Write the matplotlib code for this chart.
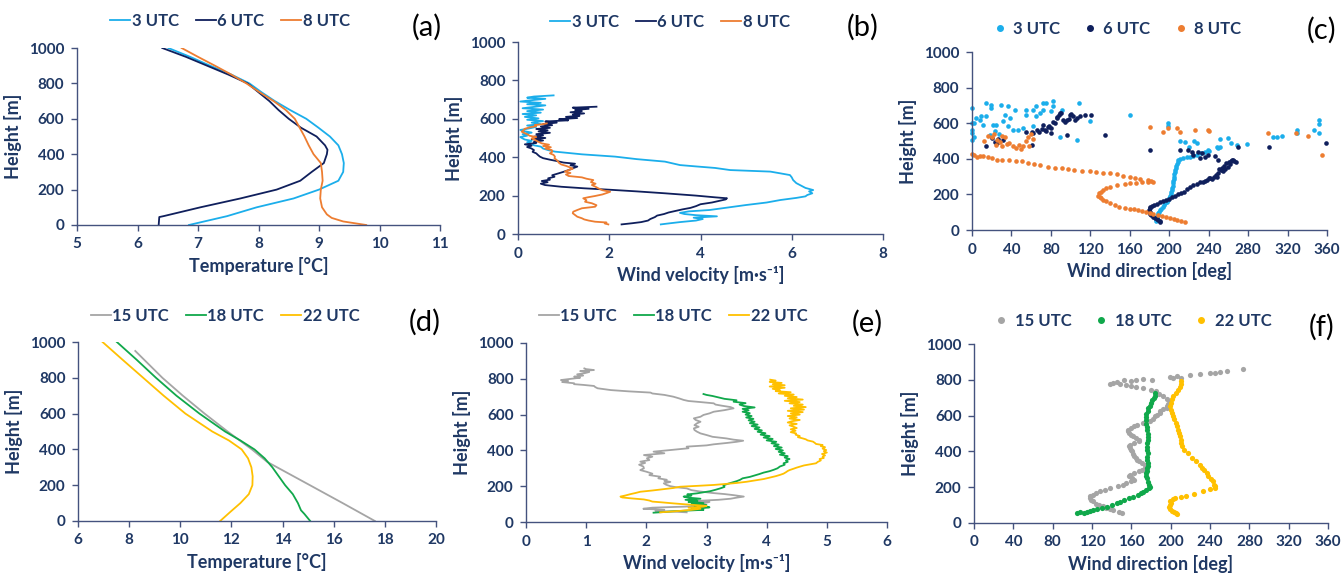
import matplotlib
matplotlib.use('Agg')
import matplotlib.pyplot as plt
from matplotlib.lines import Line2D

plt.rcParams['font.family'] = ['Lato', 'DejaVu Sans']

# ---------------- DATA ----------------
# (a) temperature, early morning
a_h_3 = [0, 50, 100, 150, 200, 250, 300, 350, 400, 450, 500, 550, 600, 650, 700, 750, 800, 850, 900, 950, 1000]
a_t_3 = [6.85, 7.48, 7.97, 8.58, 9.0, 9.32, 9.40, 9.41, 9.38, 9.32, 9.18, 8.99, 8.79, 8.52, 8.27, 8.05, 7.85, 7.55, 7.2, 6.87, 6.51]
a_h_6 = [0, 45, 50, 100, 150, 200, 250, 300, 350, 400, 425, 450, 500, 550, 600, 650, 700, 750, 800, 850, 900, 950, 1000]
a_t_6 = [6.35, 6.36, 6.43, 7.04, 7.70, 8.30, 8.69, 8.88, 9.08, 9.13, 9.14, 9.1, 8.96, 8.70, 8.50, 8.33, 8.18, 8.0, 7.82, 7.5, 7.15, 6.8, 6.41]
a_h_8 = [0, 20, 40, 60, 100, 150, 200, 250, 300, 350, 400, 450, 500, 550, 600, 650, 700, 750, 800, 850, 900, 950, 1000]
a_t_8 = [9.78, 9.40, 9.21, 9.13, 9.05, 9.02, 9.03, 9.06, 9.05, 9.03, 8.91, 8.83, 8.76, 8.68, 8.60, 8.45, 8.25, 8.02, 7.8, 7.55, 7.28, 7.0, 6.73]

# (b) wind velocity (height, speed)
b_3 = [(50, 3.13), (55, 3.3), (62, 3.55), (70, 3.9), (78, 4.05), (85, 3.85), (92, 4.36), (98, 3.9), (104, 3.65),
       (110, 3.55), (118, 3.75), (125, 4.2), (138, 4.6), (151, 5.0), (164, 5.45), (177, 5.75), (188, 6.1), (196, 6.3),
       (203, 6.34), (212, 6.45), (222, 6.38), (229, 6.47), (240, 6.3), (255, 6.18), (265, 6.1), (281, 6.03), (295, 6.0),
       (307, 5.96), (318, 5.7), (325, 5.53), (333, 4.65), (344, 4.32), (352, 3.9), (359, 3.55), (377, 3.22), (390, 2.6),
       (403, 2.13), (415, 1.4), (429, 0.81), (437, 0.66), (445, 0.55), (455, 0.5), (462, 0.35), (470, 0.3), (478, 0.2),
       (485, 0.3), (492, 0.15), (498, 0.1), (505, 0.05), (512, 0.2), (520, 0.1), (528, 0.3), (535, 0.15), (542, 0.05),
       (550, 0.25), (558, 0.4), (565, 0.2), (572, 0.5), (580, 0.3), (588, 0.55), (595, 0.2), (602, 0.45), (610, 0.15),
       (618, 0.4), (625, 0.1), (632, 0.5), (640, 0.2), (648, 0.55), (655, 0.1), (662, 0.35), (670, 0.6), (676, 0.2),
       (683, 0.5), (690, 0.05), (697, 0.3), (704, 0.6), (710, 0.2), (716, 0.35), (722, 0.78)]
b_6 = [(50, 2.27), (56, 2.5), (62, 2.7), (70, 2.85), (78, 2.9), (88, 3.0), (96, 3.05), (104, 3.2), (112, 3.3),
       (120, 3.45), (128, 3.6), (136, 3.78), (145, 3.9), (155, 4.0), (164, 4.25), (172, 4.4), (180, 4.55), (186, 4.58),
       (191, 4.32), (200, 3.9), (212, 3.22), (222, 2.6), (230, 2.05), (238, 1.45), (246, 0.95), (255, 0.59), (262, 0.5),
       (270, 0.65), (276, 0.52), (283, 0.7), (290, 0.66), (298, 0.8), (306, 0.75), (316, 0.89), (324, 1.0), (333, 1.11),
       (342, 1.2), (351, 1.3), (358, 1.15), (366, 1.25), (372, 1.0), (380, 0.85), (387, 0.7), (395, 0.55), (403, 0.48),
       (411, 0.44), (420, 0.4), (428, 0.32), (437, 0.35), (446, 0.29), (453, 0.2), (460, 0.3), (467, 0.15), (474, 0.4),
       (480, 0.35), (487, 0.55), (494, 0.3), (500, 0.6), (507, 0.35), (514, 0.55), (520, 0.4), (527, 0.7), (534, 0.45),
       (540, 0.65), (547, 0.4), (553, 0.7), (560, 0.5), (567, 0.75), (573, 0.55), (580, 0.85), (586, 0.6), (592, 1.1),
       (598, 0.9), (604, 1.3), (610, 1.05), (616, 1.35), (622, 1.2), (628, 1.45), (634, 1.15), (640, 1.4), (646, 1.25),
       (652, 1.55), (658, 1.2), (663, 1.72)]
b_8 = [(50, 1.98), (55, 1.9), (60, 1.94), (64, 1.69), (70, 1.55), (76, 1.45), (82, 1.4), (90, 1.3), (99, 1.25),
       (108, 1.2), (116, 1.21), (125, 1.3), (134, 1.4), (142, 1.69), (150, 1.72), (160, 1.62), (168, 1.47), (176, 1.5),
       (186, 1.43), (192, 1.55), (198, 1.69), (206, 1.85), (214, 1.95), (220, 2.02), (228, 1.85), (238, 1.76),
       (246, 1.7), (255, 1.62), (262, 1.7), (270, 1.6), (281, 1.65), (288, 1.5), (295, 1.4), (302, 1.11), (310, 1.05),
       (318, 1.15), (325, 1.03), (332, 1.1), (340, 1.2), (347, 1.14), (355, 1.05), (362, 0.95), (370, 0.9), (377, 0.88),
       (385, 0.85), (394, 0.8), (403, 0.81), (412, 0.78), (420, 0.7), (428, 0.75), (437, 0.74), (445, 0.6), (452, 0.72),
       (458, 0.55), (465, 0.68), (472, 0.52), (480, 0.45), (490, 0.37), (498, 0.3), (505, 0.4), (512, 0.25),
       (518, 0.22), (525, 0.15), (533, 0.08), (540, 0.12), (548, 0.15), (555, 0.25), (562, 0.4), (568, 0.37),
       (572, 0.55), (576, 0.63)]

# (c) wind direction (deg, height)
c_3 = [(187, 52), (187, 60), (188, 68), (188, 76), (189, 84), (189, 94), (190, 102), (191, 110), (192, 118), (194, 131),
       (195, 140), (196, 150), (198, 160), (199, 170), (200, 180), (201, 190), (202, 200), (202, 212), (203, 225),
       (203, 238), (204, 250), (204, 262), (204, 275), (205, 288), (205, 300), (205, 312), (206, 325), (206, 337),
       (207, 350), (207, 362), (208, 372), (209, 382), (209, 393), (211, 398), (214, 403), (218, 408), (221, 412),
       (224, 418), (228, 424), (232, 430), (236, 438), (240, 445),
       (211, 502), (216, 496), (224.7, 502), (227.7, 487), (251, 510), (259.5, 515), (251, 468), (263, 487), (268.4, 477),
       (278.5, 481), (248, 468), (249.7, 459), (239.5, 449), (219.6, 468), (199, 603), (199, 584),
       (304.8, 524), (309.8, 521), (314.8, 528), (330, 561), (330, 543), (346.6, 561), (351.6, 618), (351.6, 596),
       (351.6, 543),
       (0, 685), (0, 600), (0, 563), (0, 544), (0, 507), (2, 525), (8, 619), (9.5, 638), (14.6, 713), (19.6, 704),
       (19.6, 685), (14.6, 638), (11.2, 591), (21.3, 591), (18, 535), (24.7, 591), (29.8, 704), (36.6, 694),
       (33.2, 647), (31.5, 610), (36.6, 582), (41.7, 563), (46.7, 563), (43.3, 675), (38.3, 629), (51.8, 572),
       (55.2, 647), (55.2, 675), (65.4, 694), (62, 675), (65.4, 638), (72, 675), (72, 713), (75.5, 713), (82.3, 722),
       (82.3, 694), (80.6, 666), (68.7, 657), (62, 582), (89, 525), (90.8, 675), (109, 713), (119.5, 610), (106, 507),
       (160, 647), (27, 540), (23, 555), (4, 630), (2, 600)]
c_6 = [(190.6, 47), (191, 53), (189, 58), (188, 64), (186, 70), (184, 75), (182, 84), (181, 92), (180, 100), (179, 108),
       (179, 115), (180, 122), (181, 128), (183, 135), (185, 140), (188, 148), (191, 155), (194, 162), (197, 168),
       (200, 176), (203, 184), (206, 192), (209, 200), (212, 208), (215, 216), (218, 228), (221, 240), (224, 253),
       (228, 258), (231, 268), (234, 272), (238, 281), (241, 290), (245, 300), (247, 310), (249, 320), (252, 337),
       (250, 345), (254, 350), (256, 362), (258, 375), (261, 383), (263, 390), (265, 393), (266, 385), (262, 370),
       (260, 355), (255, 330), (248, 300), (243, 288), (236, 275), (240, 290), (257, 340), (264, 395), (268, 380),
       (211, 449), (219.5, 449), (222.9, 440), (224.6, 421), (229.5, 440), (233, 431), (236, 412), (239.5, 421),
       (249.6, 393), (231.3, 402), (180.5, 449), (301.5, 468), (359.3, 487), (270, 466), (246.5, 413),
       (14.2, 472), (23.3, 496), (26.7, 509), (31.8, 506), (20, 515), (25, 488), (60.5, 552), (65.6, 562), (70.6, 566),
       (77.4, 581), (82.5, 609), (85.9, 637), (89.2, 655), (96, 618), (99.4, 646), (106, 627), (114.6, 646),
       (121, 646), (135, 533), (96, 533), (60.5, 477), (55, 553), (62, 544), (68, 550), (72, 591), (74, 560),
       (78, 585), (80.6, 544), (84, 600), (86, 630), (88, 645), (90, 660), (92.4, 619), (94, 605), (98, 625),
       (100, 650), (102.6, 638), (104, 620), (110, 640), (80, 575), (75, 555)]
c_8 = [(216, 47), (212, 50), (208, 55), (205, 60), (201, 66), (197, 72), (193, 78), (189, 84), (184, 90), (180, 97),
       (176, 103), (172, 108), (168, 112), (164, 117), (160, 120), (155, 125), (149, 132), (145, 140), (140, 150),
       (136, 161), (133, 170), (131, 178), (130, 184), (128, 193), (129, 206), (131, 215), (133, 225), (136, 234),
       (140, 242), (147, 253), (155, 258), (160, 262), (166, 266), (172, 268), (178, 270), (184, 270), (182, 276),
       (178, 280), (170, 284), (165, 290), (160, 300), (153, 306), (147, 313), (140, 318), (133, 322), (126, 327),
       (120, 331), (112, 334), (103, 337), (97, 342), (91, 346), (84, 351), (77, 356), (69, 365), (63, 372), (57, 379),
       (51, 385), (45, 388), (38, 392), (30, 396), (25, 393), (20, 405), (16, 408), (11, 416), (5, 412), (2, 421),
       (0, 425), (8, 418),
       (12, 500), (16, 530), (20, 520), (22, 540), (25, 505), (28, 495), (30, 530), (33, 520), (35, 485), (38, 490),
       (42, 470), (45, 460), (48, 480), (50, 455), (52, 470), (55, 500), (57, 520), (60, 540), (62, 510), (58, 470),
       (30, 470), (24, 480), (180.5, 580), (194, 552), (199, 575), (207.6, 571), (211, 552), (226, 562),
       (239.4, 562), (240, 555), (300.5, 543), (329, 543), (341, 528), (354.6, 421)]

# (d) temperature, afternoon/evening
d_h_15 = [0, 100, 200, 330, 400, 500, 600, 700, 800, 950]
d_t_15 = [17.61, 16.35, 15.07, 13.4, 12.8, 11.85, 10.95, 10.1, 9.3, 8.24]
d_h_18 = [0, 40, 60, 100, 150, 200, 250, 300, 350, 400, 450, 500, 600, 700, 800, 900, 1000]
d_t_18 = [15.08, 14.85, 14.72, 14.6, 14.4, 14.1, 13.85, 13.6, 13.3, 12.9, 12.35, 11.75, 10.75, 9.85, 9.05, 8.3, 7.52]
d_h_22 = [0, 50, 100, 150, 200, 250, 300, 350, 400, 450, 500, 600, 700, 800, 900, 1000]
d_t_22 = [11.56, 11.95, 12.35, 12.68, 12.82, 12.83, 12.78, 12.65, 12.4, 11.9, 11.25, 10.2, 9.35, 8.55, 7.75, 6.96]

# (e) wind velocity (height, speed)
e_15 = [(54, 2.67), (58, 2.45), (62, 2.15), (68, 2.3), (74, 1.95), (80, 2.1), (86, 2.65), (92, 2.9), (98, 2.75),
        (104, 2.95), (112, 3.05), (118, 2.85), (124, 3.2), (130, 3.4), (136, 3.5), (142, 3.62), (150, 3.45),
        (156, 3.3), (162, 3.1), (170, 2.9), (178, 2.75), (188, 2.67), (194, 2.5), (200, 2.4), (208, 2.33), (216, 2.29),
        (224, 2.4), (230, 2.3), (236, 2.34), (244, 2.2), (253, 2.23), (262, 2.05), (270, 2.1), (281, 2.0), (290, 1.9),
        (300, 1.96), (310, 1.95), (320, 1.88), (330, 1.98), (337, 1.9), (346, 2.05), (356, 2.01), (365, 2.1),
        (374, 1.96), (384, 2.3), (393, 2.12), (402, 2.4), (412, 2.7), (421, 2.67), (428, 3.0), (434, 3.12), (442, 3.35),
        (448, 3.5), (454, 3.61), (460, 3.45), (467, 3.33), (476, 3.1), (486, 3.0), (495, 2.9), (505, 2.84), (514, 2.8),
        (523, 2.79), (532, 2.87), (541, 2.8), (551, 2.84), (560, 2.9), (570, 2.82), (579, 2.79), (588, 2.9), (598, 2.95),
        (607, 3.05), (616, 3.12), (625, 3.3), (635, 3.45), (642, 3.4), (650, 3.25), (656, 3.15), (663, 3.12),
        (670, 2.9), (676, 2.7), (682, 2.62), (690, 2.55), (700, 2.45), (710, 2.3), (718, 2.1), (723, 2.07), (730, 1.7),
        (737, 1.41), (742, 1.3), (747, 1.19), (754, 1.15), (760, 1.13), (766, 0.95), (770, 0.8), (775, 0.8),
        (782, 0.6), (788, 0.7), (793, 0.58), (800, 0.75), (806, 0.9), (812, 0.8), (818, 0.95), (825, 0.85),
        (831, 0.97), (838, 1.05), (843, 0.9), (849, 1.13), (854, 1.0), (858, 0.97)]
e_18 = [(52, 2.12), (56, 2.3), (60, 2.45), (64, 2.7), (68, 2.95), (72, 2.75), (76, 2.9), (82, 3.05), (88, 2.8),
        (95, 3.0), (100, 2.75), (106, 2.95), (112, 2.7), (118, 2.85), (124, 2.65), (130, 2.9), (136, 2.7), (142, 2.62),
        (148, 2.75), (154, 2.68), (160, 2.84), (166, 2.95), (172, 3.06), (180, 3.15), (188, 3.23), (196, 3.3),
        (204, 3.28), (212, 3.34), (220, 3.42), (228, 3.5), (236, 3.56), (244, 3.6), (252, 3.72), (260, 3.8),
        (268, 3.88), (276, 3.95), (284, 4.05), (292, 4.12), (300, 4.18), (310, 4.22), (320, 4.3), (328, 4.28),
        (336, 4.35), (344, 4.32), (352, 4.38), (360, 4.3), (368, 4.35), (376, 4.22), (384, 4.3), (392, 4.2),
        (400, 4.27), (408, 4.15), (416, 4.25), (424, 4.12), (432, 4.2), (440, 4.08), (448, 4.16), (456, 4.0),
        (464, 4.1), (472, 3.95), (480, 4.05), (488, 3.9), (496, 3.98), (504, 3.85), (512, 3.92), (520, 3.8),
        (528, 3.88), (536, 3.75), (544, 3.85), (552, 3.72), (560, 3.8), (568, 3.7), (576, 3.78), (584, 3.66),
        (592, 3.75), (600, 3.65), (608, 3.72), (616, 3.6), (624, 3.7), (632, 3.6), (640, 3.8), (648, 3.62),
        (656, 3.55), (664, 3.65), (672, 3.45), (680, 3.5), (688, 3.3), (696, 3.2), (704, 3.1), (710, 3.0), (715, 2.95)]
e_22 = [(54, 2.23), (58, 2.4), (62, 2.56), (68, 2.75), (74, 2.9), (80, 2.7), (86, 2.95), (90, 3.0), (95, 2.8),
        (100, 2.6), (104, 2.45), (110, 2.25), (114, 2.1), (120, 2.05), (126, 1.96), (132, 1.75), (137, 1.6),
        (142, 1.57), (148, 1.65), (156, 1.74), (162, 1.82), (169, 1.9), (176, 2.1), (184, 2.3), (190, 2.45),
        (197, 2.56), (202, 2.85), (207, 3.12), (212, 3.3), (218, 3.5), (225, 3.67), (232, 3.8), (240, 3.95),
        (248, 4.05), (256, 4.15), (263, 4.22), (270, 4.28), (278, 4.32), (285, 4.35), (290, 4.38), (298, 4.45),
        (304, 4.5), (309, 4.55), (316, 4.62), (322, 4.72), (328, 4.82), (336, 4.85), (344, 4.9), (352, 4.88),
        (358, 4.95), (365, 4.93), (372, 4.97), (380, 4.92), (388, 5.0), (396, 4.95), (402, 4.99), (410, 4.93),
        (418, 4.97), (424, 4.9), (430, 4.93), (436, 4.82), (442, 4.8), (449, 4.77), (456, 4.68), (462, 4.65),
        (467, 4.6), (474, 4.52), (480, 4.55), (488, 4.48), (495, 4.49), (502, 4.4), (510, 4.48), (518, 4.4),
        (525, 4.5), (533, 4.44), (540, 4.38), (548, 4.5), (556, 4.35), (563, 4.42), (570, 4.55), (578, 4.38),
        (585, 4.5), (592, 4.35), (600, 4.55), (607, 4.4), (614, 4.6), (621, 4.35), (628, 4.62), (635, 4.4),
        (642, 4.65), (649, 4.45), (656, 4.6), (663, 4.38), (670, 4.55), (677, 4.3), (684, 4.6), (691, 4.35),
        (698, 4.5), (705, 4.3), (712, 4.45), (718, 4.2), (725, 4.4), (731, 4.15), (737, 4.22), (744, 4.1), (750, 4.3),
        (757, 4.05), (764, 4.3), (770, 4.1), (777, 4.25), (783, 4.05), (790, 4.15), (795, 4.06)]

# (f) wind direction (deg, height)
f_15 = [(150, 56), (147, 62), (141, 72), (138, 78), (134, 85), (131, 93), (127, 100), (124, 108), (121, 121),
        (119, 130), (118, 140), (118, 149), (121, 158), (124, 166), (128, 177), (133, 186), (138, 195), (146, 205),
        (152, 214), (155, 223), (160, 232), (163, 242), (161, 252), (158, 262), (159, 270), (163, 280), (168, 290),
        (171, 298), (174, 310), (174, 326), (171, 336), (168, 344), (166, 354), (165, 363), (163, 375), (162, 388),
        (161, 400), (160, 409), (159, 420), (158, 430), (159, 437), (163, 447), (168, 457), (168, 465), (165, 475),
        (162, 485), (160, 493), (158, 503), (157, 512), (157, 521), (160, 530), (163, 540), (166, 549), (172, 558),
        (179, 568), (182, 580), (184, 595), (186, 605), (189, 615), (189, 624), (192, 635), (196, 645), (196, 652),
        (197, 665), (199, 680), (196, 695), (192, 708), (188, 720), (185, 735), (180, 745), (172, 754), (165, 760),
        (160, 765), (155, 773), (148, 778), (141, 782), (138, 776), (145, 790), (153, 799), (160, 795), (165, 797),
        (172, 803), (180.7, 799), (199, 814), (202, 808), (206, 820), (210, 812), (220, 827), (230, 833), (240, 836),
        (245, 838), (250, 846), (257, 851), (274, 859)]
f_18 = [(105, 58), (108, 60), (112, 55), (115, 63), (118, 68), (121, 72), (125, 78), (130, 85), (135, 91), (140, 100),
        (145, 110), (148, 119), (153, 127), (158, 138), (162, 147), (167, 158), (170, 167), (172, 175), (175, 185),
        (178, 195), (179, 203), (178, 215), (177, 231), (176, 250), (175, 265), (175, 277), (176, 290), (176, 305),
        (177, 320), (177, 333), (176, 350), (176, 370), (177, 390), (176, 408), (176, 425), (176, 445), (177, 465),
        (177, 482), (177, 500), (176, 520), (176, 538), (175, 555), (175, 575), (174.6, 594), (175, 610), (177, 625),
        (177, 640), (179, 655), (180, 670), (181.5, 687), (183, 700), (184, 712), (184, 724)]
f_22 = [(206, 50), (205, 56), (203, 62), (201, 68), (199, 78), (198, 88), (199, 100), (200, 110), (199, 121),
        (202, 132), (204, 140), (210, 144), (216, 149), (224, 160), (233, 177), (240, 188), (245, 198), (245, 205),
        (244, 215), (243, 232), (241, 245), (238, 260), (236.5, 279), (234, 295), (232, 310), (229.6, 325), (226, 345),
        (222, 365), (217.7, 391), (214, 410), (212, 430), (211, 448), (211, 465), (209, 485), (208, 505), (207, 520),
        (206, 540), (205, 560), (203, 580), (202.5, 596), (201, 615), (200, 632), (199, 652), (200, 670), (201, 690),
        (202.5, 708), (205, 725), (207.6, 745), (209, 760), (210, 775), (211, 791)]

labels_top = ['3 UTC', '6 UTC', '8 UTC']
labels_bot = ['15 UTC', '18 UTC', '22 UTC']

# ---------------- STYLE ----------------
C3, C6, C8 = '#1BAEEB', '#0F1F5C', '#ED7D31'
C15, C18, C22 = '#A5A5A5', '#10A84B', '#FFC000'
TXT = '#1F3864'
AXC = '#44527E'

W, H = 1341, 576
fig = plt.figure(figsize=(W / 100, H / 100), dpi=100)


def rect(x0, y0, x1, y1):
    return [x0 / W, 1 - y1 / H, (x1 - x0) / W, (y1 - y0) / H]


def style(ax, xlim, xticks, xlabel):
    ax.set_xlim(xlim)
    ax.set_ylim(0, 1000)
    ax.set_xticks(xticks)
    ax.set_yticks(range(0, 1001, 200))
    for s in ['top', 'right']:
        ax.spines[s].set_visible(False)
    for s in ['left', 'bottom']:
        ax.spines[s].set_color(AXC)
        ax.spines[s].set_linewidth(1.0)
    ax.tick_params(axis='both', colors=AXC, labelcolor=TXT, length=4, width=1,
                   direction='out', pad=5, labelsize=11)
    for lab in ax.get_xticklabels() + ax.get_yticklabels():
        lab.set_fontweight('bold')
    ax.set_xlabel(xlabel, fontsize=13, fontweight='bold', color=TXT, labelpad=4)
    ax.set_ylabel('Height [m]', fontsize=13, fontweight='bold', color=TXT, labelpad=5)


def line_legend(handles, labels, cx, cy):
    fig.legend(handles, labels, loc='center', bbox_to_anchor=(cx / W, 1 - cy / H), ncol=3,
               frameon=False, handlelength=1.2, handletextpad=0.1, columnspacing=1.0,
               prop=dict(weight='bold', size=12), labelcolor=TXT)


def dot_legend(colors, labels, cx, cy):
    hs = [Line2D([], [], ls='', marker='o', markersize=4, color=c) for c in colors]
    fig.legend(hs, labels, loc='center', bbox_to_anchor=(cx / W, 1 - cy / H), ncol=3,
               frameon=False, handlelength=0.8, handletextpad=0.4, columnspacing=1.4,
               prop=dict(weight='bold', size=12), labelcolor=TXT)


LW = 1.3
DOT = 11

# (a)
ax = fig.add_axes(rect(77, 48, 440, 225))
ha = [ax.plot(a_t_3, a_h_3, color=C3, lw=LW)[0],
      ax.plot(a_t_6, a_h_6, color=C6, lw=LW)[0],
      ax.plot(a_t_8, a_h_8, color=C8, lw=LW)[0]]
style(ax, (5, 11), range(5, 12), 'Temperature [°C]')
line_legend(ha, labels_top, 230, 21)

# (b)
ax = fig.add_axes(rect(518, 42, 883, 234))
hb = []
for data, c in [(b_3, C3), (b_6, C6), (b_8, C8)]:
    hb.append(ax.plot([p[1] for p in data], [p[0] for p in data], color=c, lw=LW)[0])
style(ax, (0, 8), range(0, 9, 2), 'Wind velocity [m·s⁻¹]')
line_legend(hb, labels_top, 670, 22)

# (c)
ax = fig.add_axes(rect(972, 52, 1327, 230))
for data, c in [(c_3, C3), (c_6, C6), (c_8, C8)]:
    ax.scatter([p[0] for p in data], [p[1] for p in data], s=DOT, color=c, linewidths=0, clip_on=False)
style(ax, (0, 360), range(0, 361, 40), 'Wind direction [deg]')
dot_legend([C3, C6, C8], labels_top, 1117, 29)

# (d)
ax = fig.add_axes(rect(78, 342, 436, 521))
hd = [ax.plot(d_t_15, d_h_15, color=C15, lw=LW)[0],
      ax.plot(d_t_18, d_h_18, color=C18, lw=LW)[0],
      ax.plot(d_t_22, d_h_22, color=C22, lw=LW)[0]]
style(ax, (6, 20), range(6, 21, 2), 'Temperature [°C]')
line_legend(hd, labels_bot, 225, 316)

# (e)
ax = fig.add_axes(rect(526, 343, 887, 522))
he = []
for data, c in [(e_15, C15), (e_18, C18), (e_22, C22)]:
    he.append(ax.plot([p[1] for p in data], [p[0] for p in data], color=c, lw=LW)[0])
style(ax, (0, 6), range(0, 7), 'Wind velocity [m·s⁻¹]')
line_legend(he, labels_bot, 673, 316)

# (f)
ax = fig.add_axes(rect(974, 344, 1328, 523))
for data, c in [(f_15, C15), (f_18, C18), (f_22, C22)]:
    ax.scatter([p[0] for p in data], [p[1] for p in data], s=DOT + 3, color=c, linewidths=0, clip_on=False)
style(ax, (0, 360), range(0, 361, 40), 'Wind direction [deg]')
dot_legend([C15, C18, C22], labels_bot, 1133, 321)

# panel letters
for lab, x, y in [('(a)', 427, 27), ('(b)', 863, 27), ('(c)', 1322, 30),
                  ('(d)', 425, 322), ('(e)', 867, 323), ('(f)', 1322, 327)]:
    fig.text(x / W, 1 - y / H, lab, fontsize=21, ha='center', va='center', color='black')

fig.savefig('out.png', dpi=100)
